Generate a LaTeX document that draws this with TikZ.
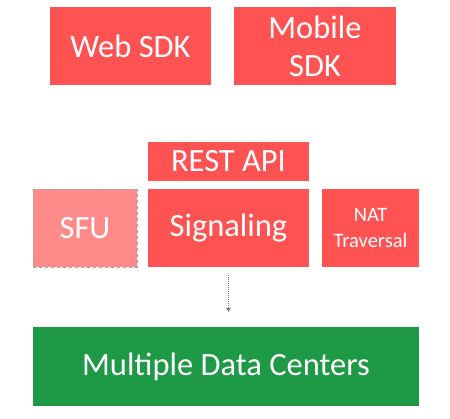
\documentclass[tikz,border=0pt]{standalone}
\usepackage{fontspec}
\setmainfont{Carlito}
\usepackage{tikz}
\usetikzlibrary{arrows.meta}

\definecolor{boxred}{HTML}{FF5252}
\definecolor{boxpink}{HTML}{FF8A8A}
\definecolor{boxgreen}{HTML}{1E9A47}

\begin{document}
\begin{tikzpicture}[x=1pt, y=-1pt,
    block/.style={fill=boxred, text=white, inner sep=0pt, align=center,
                  font=\fontsize{32.5}{38}\selectfont},
    smallblock/.style={block, font=\fontsize{20.5}{26}\selectfont}]
        \useasboundingbox (0,0) rectangle (450,419);
        % client side
        \node[block, minimum width=161pt, minimum height=78pt] (web) at (130.5,46) {Web SDK};
        \node[block, minimum width=162pt, minimum height=78pt] (mobile) at (315,46) {Mobile\\SDK};
        % server side
        \node[block, minimum width=161pt, minimum height=39pt] (rest) at (228.5,161.5) {REST API};
        \node[block, fill=boxpink, draw=gray!70, dashed, minimum width=104pt, minimum height=78pt] (sfu) at (85,228) {SFU};
        \node[block, minimum width=161pt, minimum height=78pt] (sig) at (228.5,228) {Signaling};
        \node[smallblock, minimum width=97pt, minimum height=78pt] (nat) at (370.5,228) {NAT\\Traversal};
        % data centers
        \node[block, fill=boxgreen, minimum width=386pt, minimum height=79pt] (dc) at (226,366.5) {Multiple Data Centers};
        \draw[gray, densely dotted, line width=1pt, -{Triangle[width=5pt,length=4pt]}, shorten <=8pt, shorten >=15pt]
            (sig.south) -- (sig.south |- dc.north);
\end{tikzpicture}
\end{document}
